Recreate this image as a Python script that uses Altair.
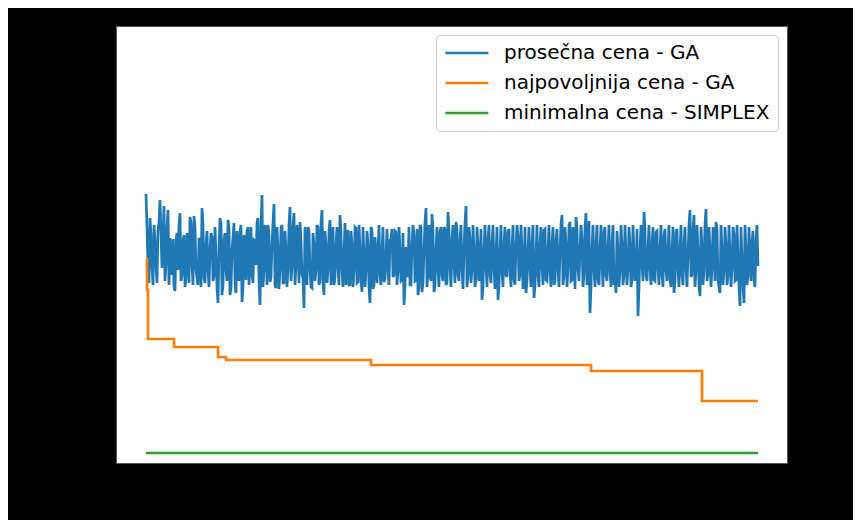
import altair as alt
import pandas as pd

# Series names (legend)
series_names = ["prosečna cena - GA", "najpovoljnija cena - GA", "minimalna cena - SIMPLEX"]
series_colors = ["#1f77b4", "#ff7f0e", "#2ca02c"]

# Average cost (GA) at even generations 0, 2, 4, ... 612
avg_cost_even = [
    269, 198, 245, 195, 238, 196, 233, 263, 195, 257,
    198, 253, 225, 203, 176, 223, 193, 250, 188, 228,
    185, 218, 246, 198, 247, 193, 178, 223, 255, 185,
    218, 193, 213, 226, 188, 208, 160, 245, 168, 223,
    193, 243, 168, 213, 240, 170, 208, 231, 161, 228,
    183, 236, 201, 188, 223, 198, 245, 158, 268, 193,
    223, 238, 181, 218, 259, 175, 213, 193, 238, 180,
    213, 193, 256, 196, 250, 198, 218, 241, 188, 155,
    213, 236, 193, 175, 218, 193, 236, 183, 253, 168,
    218, 193, 243, 201, 178, 218, 195, 248, 193, 208,
    178, 233, 178, 218, 193, 235, 181, 213, 171, 208,
    193, 218, 160, 233, 178, 208, 215, 188, 213, 181,
    208, 193, 223, 234, 188, 231, 193, 213, 183, 158,
    216, 193, 178, 218, 228, 183, 168, 238, 171, 213,
    255, 193, 188, 249, 171, 213, 193, 231, 188, 236,
    178, 251, 193, 223, 198, 241, 188, 223, 193, 213,
    257, 188, 223, 195, 213, 183, 218, 193, 163, 213,
    198, 223, 188, 218, 195, 208, 163, 213, 191, 218,
    188, 231, 193, 213, 183, 218, 227, 188, 213, 193,
    170, 213, 195, 218, 165, 208, 188, 218, 198, 233,
    183, 213, 193, 218, 178, 223, 193, 213, 248, 188,
    218, 195, 241, 183, 208, 246, 193, 213, 223, 188,
    250, 183, 150, 213, 193, 218, 183, 213, 198, 231,
    188, 213, 193, 218, 178, 170, 213, 193, 218, 188,
    208, 195, 218, 183, 208, 193, 147, 213, 198, 251,
    188, 213, 195, 218, 183, 231, 193, 213, 188, 227,
    193, 213, 183, 208, 170, 231, 193, 213, 188, 218,
    195, 208, 253, 188, 248, 193, 213, 167, 218, 193,
    254, 188, 213, 195, 218, 241, 183, 170, 213, 193,
    218, 188, 208, 195, 229, 183, 208, 157, 203, 160,
    213, 188, 203, 221, 183, 222, 197,
]

# Average cost (GA) at odd generations 1, 3, 5, ... 611
avg_cost_odd = [
    235, 180, 228, 178, 222, 180, 240, 230, 226, 182,
    236, 178, 188, 224, 172, 230, 238, 182, 222, 176,
    230, 180, 240, 178, 236, 185, 225, 176, 238, 180,
    232, 176, 230, 182, 236, 175, 215, 240, 178, 230,
    182, 236, 175, 226, 180, 232, 182, 238, 176, 222,
    232, 178, 236, 180, 222, 240, 182, 236, 176, 238,
    178, 228, 186, 240, 178, 236, 174, 236, 180, 232,
    176, 238, 182, 236, 178, 238, 180, 222, 185, 236,
    178, 232, 176, 230, 182, 238, 178, 240, 180, 232,
    180, 232, 178, 236, 186, 236, 178, 230, 176, 240,
    226, 178, 232, 176, 236, 180, 238, 182, 236, 176,
    232, 176, 236, 174, 226, 180, 238, 178, 236, 184,
    234, 178, 224, 186, 232, 178, 236, 182, 230, 176,
    186, 236, 178, 238, 182, 234, 176, 236, 180, 240,
    176, 238, 182, 232, 178, 236, 176, 236, 182, 234,
    180, 232, 176, 238, 180, 232, 182, 238, 174, 240,
    176, 236, 180, 238, 176, 236, 182, 234, 176, 238,
    176, 238, 180, 238, 174, 236, 178, 238, 176, 236,
    186, 234, 176, 238, 178, 238, 182, 238, 174, 236,
    182, 236, 176, 238, 178, 238, 176, 236, 178, 234,
    182, 238, 176, 236, 182, 234, 176, 238, 178, 236,
    176, 238, 182, 236, 174, 234, 182, 238, 176, 236,
    178, 242, 176, 238, 176, 238, 178, 238, 176, 236,
    182, 238, 176, 238, 182, 232, 176, 238, 178, 238,
    178, 236, 176, 238, 182, 234, 176, 238, 182, 232,
    182, 238, 178, 236, 182, 232, 178, 238, 176, 234,
    182, 238, 176, 236, 182, 234, 176, 238, 178, 236,
    176, 238, 186, 234, 176, 238, 176, 236, 178, 238,
    182, 236, 176, 236, 182, 234, 176, 238, 178, 236,
    178, 238, 176, 236, 182, 238, 176, 236, 178, 238,
    178, 236, 182, 232, 176, 238,
]

# Best cost so far (GA): generations where it changes and values
best_gen = [0, 1, 2, 28, 72, 80, 225, 445, 556, 612]
best_cost = [204, 173, 124, 116, 106, 103, 98, 92, 62, 62]

# Minimal cost (SIMPLEX)
simplex_gen = [0, 612]
simplex_cost = [10, 10]

avg_gen, avg_val = [], []
for i, v in enumerate(avg_cost_even):
    avg_gen.append(2 * i)
    avg_val.append(v)
    if i < len(avg_cost_odd):
        avg_gen.append(2 * i + 1)
        avg_val.append(avg_cost_odd[i])

avg_df = pd.DataFrame({"gen": avg_gen, "cena": avg_val, "serija": series_names[0]})
best_df = pd.DataFrame({"gen": best_gen, "cena": best_cost, "serija": series_names[1]})
simplex_df = pd.DataFrame({"gen": simplex_gen, "cena": simplex_cost, "serija": series_names[2]})

x_enc = alt.X("gen:Q", scale=alt.Scale(domain=[-30, 641], nice=False, zero=False), axis=None)
y_enc = alt.Y("cena:Q", scale=alt.Scale(domain=[0, 437], nice=False, zero=False), axis=None)
color_enc = alt.Color(
    "serija:N",
    scale=alt.Scale(domain=series_names, range=series_colors),
    sort=series_names,
    legend=alt.Legend(
        title=None,
        orient="top-right",
        offset=9,
        symbolType="M-1,0H4",
        symbolSize=296,
        symbolStrokeWidth=2.7,
        labelFontSize=20,
        labelFont="DejaVu Sans",
        labelColor="#000000",
        labelLimit=400,
        labelOffset=40,
        padding=8,
        rowPadding=10,
        strokeColor="#cccccc",
        fillColor="white",
        cornerRadius=4,
    ),
)

avg_line = alt.Chart(avg_df).mark_line(strokeWidth=2.7).encode(x=x_enc, y=y_enc, color=color_enc)
best_line = alt.Chart(best_df).mark_line(strokeWidth=2.7, interpolate="step-after").encode(
    x=x_enc, y=y_enc, color=color_enc
)
simplex_line = alt.Chart(simplex_df).mark_line(strokeWidth=2.7).encode(x=x_enc, y=y_enc, color=color_enc)

chart = (
    alt.layer(avg_line, best_line, simplex_line)
    .properties(
        width=671,
        height=437,
        background="black",
        padding={"left": 108, "top": 18, "right": 66, "bottom": 57},
        autosize=alt.AutoSizeParams(type="none"),
    )
    .configure_view(fill="white", stroke="#555555", strokeWidth=1)
)

chart.save("out.html", embed_options={"renderer": "svg", "actions": False})
